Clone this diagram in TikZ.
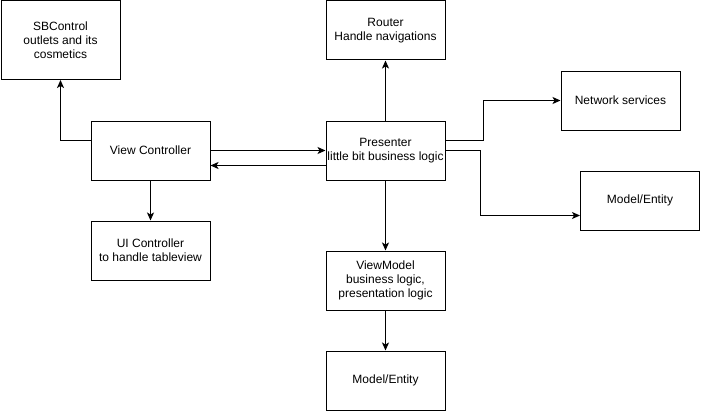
\documentclass[tikz,border=0pt]{standalone}
\usepackage{fontspec}
\setmainfont{Liberation Sans}
\usetikzlibrary{arrows.meta}
\begin{document}
\begin{tikzpicture}[x=1pt,y=-1pt,
  box/.style={draw=black,line width=1pt,fill=white,minimum width=119pt,align=center,inner sep=0pt,
    font=\fontsize{12}{14}\selectfont},
  conn/.style={draw=black,line width=1pt,-{Stealth[length=8pt,width=7pt,inset=2pt]}}]
\useasboundingbox (0,0) rectangle (701,412);
\fill[white] (0,0) rectangle (701,412);
\node[box,minimum height=79pt] (sb) at (60.5,40) {SBControl\\outlets and its\\cosmetics};
\node[box,minimum height=59pt] (vc) at (150.5,150.5) {View Controller};
\node[box,minimum height=59pt] (ui) at (150.5,250.5) {UI Controller\\to handle tableview};
\node[box,minimum height=59pt] (pr) at (385.5,150.5) {Presenter\\little bit business logic};
\node[box,minimum height=59pt] (ro) at (385.5,30.5) {Router\\Handle navigations};
\node[box,minimum height=59pt] (net) at (620.5,100.5) {Network services};
\node[box,minimum height=59pt] (mer) at (640,200.5) {Model/Entity};
\node[box,minimum height=59pt] (vm) at (385.5,280.5) {ViewModel\\business logic,\\presentation logic};
\node[box,minimum height=59pt] (meb) at (385.5,380.5) {Model/Entity};
\draw[conn] ([yshift=10pt]vc.west) -| (sb.south);
\draw[conn] (vc.south) -- (ui.north);
\draw[conn] (vc.east) -- (pr.west);
\draw[conn] ([yshift=-15pt]pr.west) -- ([yshift=-15pt]vc.east);
\draw[conn] (pr.north) -- (ro.south);
\draw[conn] ([yshift=10pt]pr.east) -- ++(38pt,0) |- (net.west);
\draw[conn] (pr.east) -- ++(35pt,0) |- ([yshift=-15pt]mer.west);
\draw[conn] (pr.south) -- (vm.north);
\draw[conn] (vm.south) -- (meb.north);
\end{tikzpicture}
\end{document}
